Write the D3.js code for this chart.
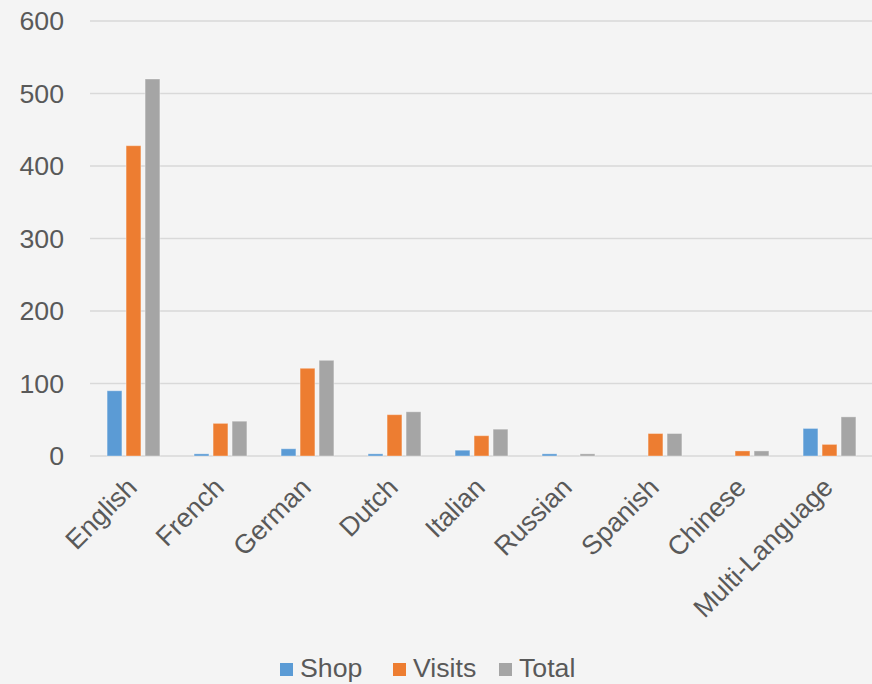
<!DOCTYPE html>
<html><head><meta charset="utf-8">
<script src="https://cdn.jsdelivr.net/npm/d3@7"></script>
<style>html,body{margin:0;padding:0;background:#f4f4f4;}svg{display:block;}</style>
</head><body><svg id="c" width="872" height="684"></svg>
<script>
const categories = ["English","French","German","Dutch","Italian","Russian","Spanish","Chinese","Multi-Language"];
const seriesNames = ["Shop","Visits","Total"];
const shop   = [90, 3, 10, 3, 8, 3, 0, 0, 38];
const visits = [428, 45, 121, 57, 28, 0, 31, 7, 16];
const total  = [520, 48, 132, 61, 37, 3, 31, 7, 54];
const yTicks = [0,100,200,300,400,500,600];
const colors = ["#5b9bd5","#ed7d31","#a5a5a5"];

const seriesVals = [shop, visits, total];
const svg = d3.select("#c");
const font = "'Liberation Sans', Arial, sans-serif";
const textCol = "#595959";
const fs = 26.7;
svg.append("rect").attr("width",872).attr("height",684).attr("fill","#f4f4f4");

const x0 = d3.scaleBand().domain(categories).range([90, 873]).paddingInner(0).paddingOuter(0);
const x1 = d3.scaleBand().domain(seriesNames).range([0, x0.bandwidth()]).paddingInner(0.22).paddingOuter(0.9);
const y = d3.scaleLinear().domain([0,600]).range([456, 21]);

// gridlines
svg.append("g").selectAll("line").data(yTicks).join("line")
  .attr("x1",90).attr("x2",872).attr("y1",d=>y(d)).attr("y2",d=>y(d))
  .attr("stroke","#d9d9d9").attr("stroke-width",1.5);

// y labels
svg.append("g").selectAll("text").data(yTicks).join("text")
  .attr("x",64).attr("y",d=>y(d)).attr("dy","0.35em").attr("text-anchor","end")
  .attr("font-family",font).attr("font-size",fs).attr("fill",textCol).text(d=>d);

// bars
const rows = categories.map((c,i)=>({cat:c, vals: seriesNames.map((s,j)=>({s, v: seriesVals[j][i], col: colors[j]}))}));
const g = svg.append("g").selectAll("g").data(rows).join("g")
  .attr("transform",d=>`translate(${x0(d.cat)},0)`);
g.selectAll("rect").data(d=>d.vals.filter(e=>e.v>0)).join("rect")
  .attr("x",d=>x1(d.s)).attr("width",x1.bandwidth())
  .attr("y",d=>y(d.v)).attr("height",d=>y(0)-y(d.v))
  .attr("fill",d=>d.col).attr("stroke","#ffffff").attr("stroke-opacity",0.35).attr("stroke-width",1);

// category labels
svg.append("g").selectAll("text").data(categories).join("text")
  .attr("transform",d=>`translate(${x0(d)+x0.bandwidth()/2+5},489) rotate(-45)`)
  .attr("text-anchor","end")
  .attr("font-family",font).attr("font-size",fs).attr("fill",textCol).text(d=>d);

// legend
const legX = [280, 393, 499];
const leg = svg.append("g").selectAll("g").data(seriesNames).join("g")
  .attr("transform",(d,i)=>`translate(${legX[i]},0)`);
leg.append("rect").attr("x",0).attr("y",663).attr("width",13).attr("height",13).attr("fill",(d,i)=>colors[i]);
leg.append("text").attr("x",20).attr("y",677).attr("font-family",font).attr("font-size",fs).attr("fill",textCol).text(d=>d);
</script></body></html>
